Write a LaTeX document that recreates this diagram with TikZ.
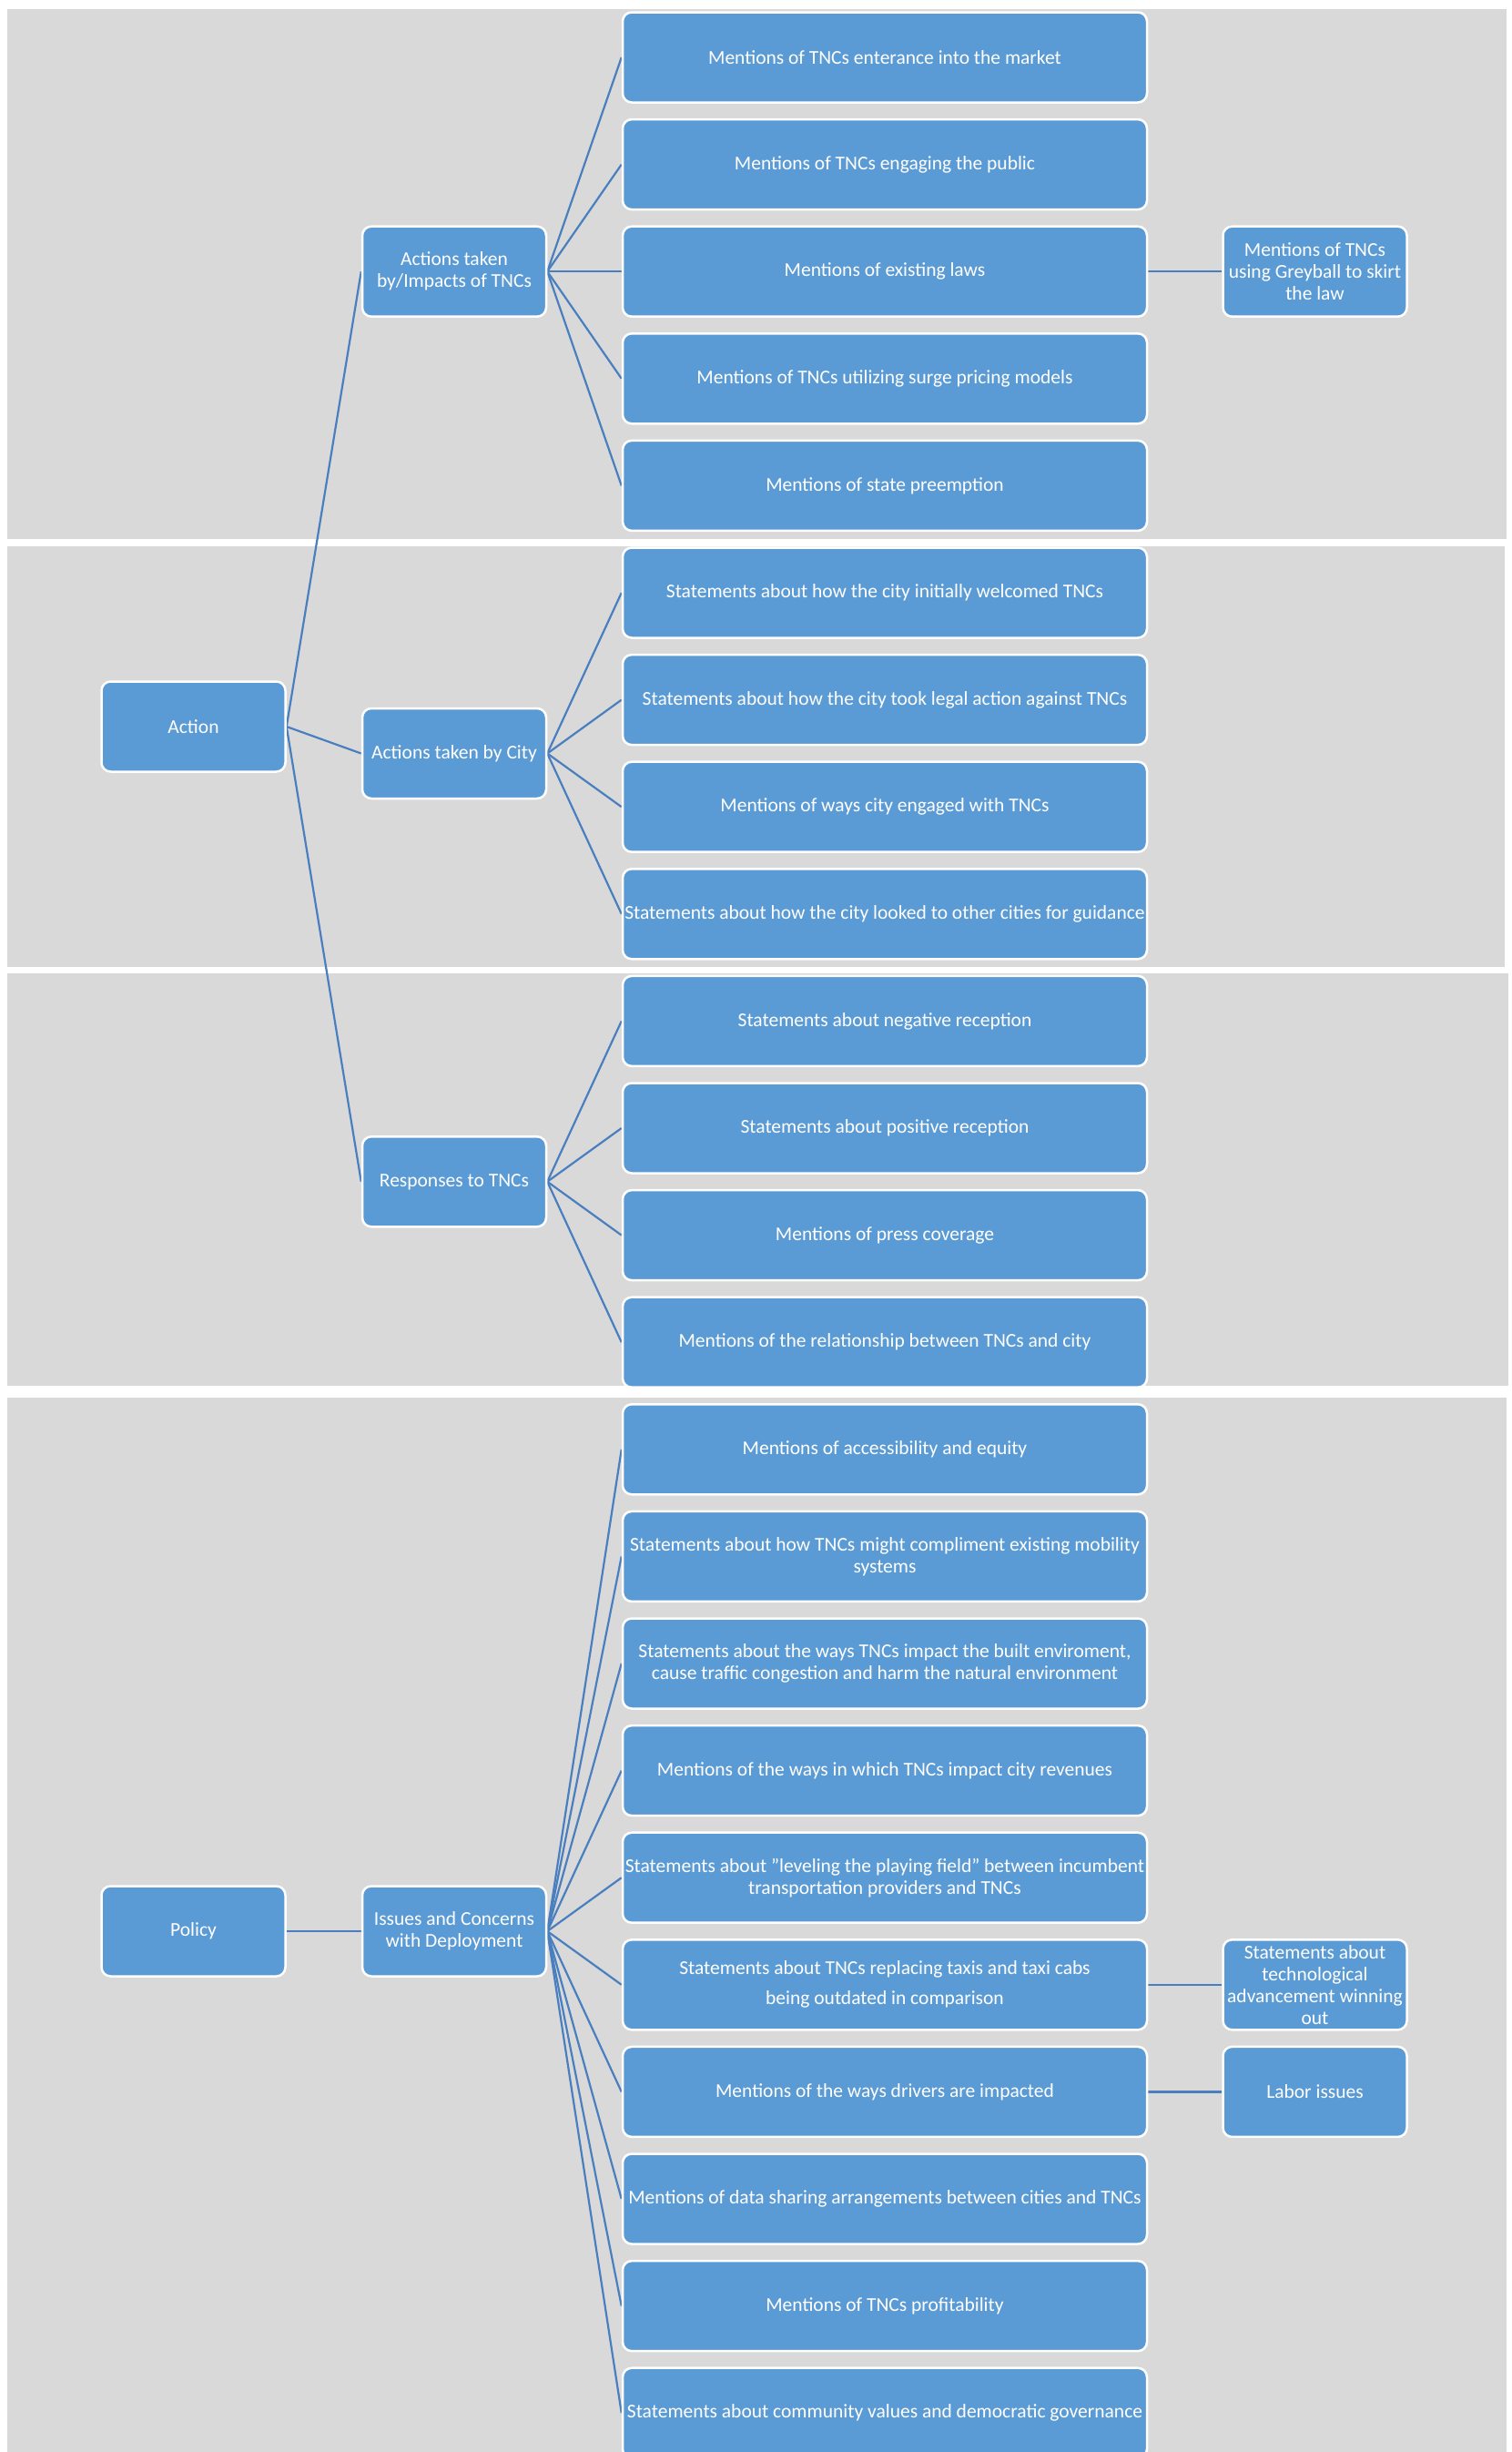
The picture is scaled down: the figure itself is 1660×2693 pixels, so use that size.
\documentclass[tikz,border=0pt]{standalone}
\usepackage{fontspec}
\setmainfont{Carlito}
\definecolor{boxblue}{HTML}{5B9BD5}
\definecolor{panelgray}{HTML}{D9D9D9}
\definecolor{linkblue}{HTML}{4A7FBF}
\pgfdeclarelayer{bg}
\pgfdeclarelayer{edges}
\pgfsetlayers{bg,edges,main}
\tikzset{
  box/.style={rectangle, rounded corners=10pt, fill=boxblue, draw=white, line width=2.5pt,
    text=white, align=center, inner sep=1pt, minimum height=99pt,
    font=\fontsize{21.5}{24}\selectfont},
  wide/.style={box, minimum width=576pt},
  narrow/.style={box, minimum width=202pt},
  conn/.style={draw=linkblue, line width=2.2pt},
  panel/.style={fill=panelgray}
}
\begin{document}
\begin{tikzpicture}[x=1pt,y=-1pt]
\useasboundingbox (0,0) rectangle (1660,2693);
\begin{pgfonlayer}{bg}
\fill[panel] (8,10) rectangle (1655,592);
\fill[panel] (8,600) rectangle (1653,1062);
\fill[panel] (8,1069) rectangle (1657,1522);
\fill[panel] (8,1535) rectangle (1655,2693);
\end{pgfonlayer}

% roots
\node[narrow] (action) at (212.5,798) {Action};
\node[narrow] (policy) at (212.5,2121) {Policy};

% level 2
\node[narrow] (impacts) at (499,298.2) {Actions taken\\by/Impacts of TNCs};
\node[narrow] (city) at (499,827.5) {Actions taken by City};
\node[narrow] (responses) at (499,1297.8) {Responses to TNCs};
\node[narrow] (issues) at (499,2121) {Issues and Concerns\\with Deployment};

% level 3
\node[wide] (b0) at (972,63) {Mentions of TNCs enterance into the market};
\node[wide] (b1) at (972,180.6) {Mentions of TNCs engaging the public};
\node[wide] (b2) at (972,298.2) {Mentions of existing laws};
\node[wide] (b3) at (972,415.8) {Mentions of TNCs utilizing surge pricing models};
\node[wide] (b4) at (972,533.4) {Mentions of state preemption};
\node[wide] (b5) at (972,651) {Statements about how the city initially welcomed TNCs};
\node[wide] (b6) at (972,768.6) {Statements about how the city took legal action against TNCs};
\node[wide] (b7) at (972,886.2) {Mentions of ways city engaged with TNCs};
\node[wide] (b8) at (972,1003.8) {Statements about how the city looked to other cities for guidance};
\node[wide] (b9) at (972,1121.4) {Statements about negative reception};
\node[wide] (b10) at (972,1239) {Statements about positive reception};
\node[wide] (b11) at (972,1356.6) {Mentions of press coverage};
\node[wide] (b12) at (972,1474.2) {Mentions of the relationship between TNCs and city};
\node[wide] (b13) at (972,1591.8) {Mentions of accessibility and equity};
\node[wide] (b14) at (972,1709.4) {Statements about how TNCs might compliment existing mobility\\systems};
\node[wide] (b15) at (972,1827) {Statements about the ways TNCs impact the built enviroment,\\cause traffic congestion and harm the natural environment};
\node[wide] (b16) at (972,1944.6) {Mentions of the ways in which TNCs impact city revenues};
\node[wide] (b17) at (972,2062.2) {Statements about "leveling the playing field" between incumbent\\transportation providers and TNCs};
\node[wide] (b18) at (972,2179.8) {Statements about TNCs replacing taxis and taxi cabs\\[9pt]being outdated in comparison};
\node[wide] (b19) at (972,2297.4) {Mentions of the ways drivers are impacted};
\node[wide] (b20) at (972,2415) {Mentions of data sharing arrangements between cities and TNCs};
\node[wide] (b21) at (972,2532.6) {Mentions of TNCs profitability};
\node[wide] (b22) at (972,2650.2) {Statements about community values and democratic governance};

% level 4
\node[narrow] (greyball) at (1444.5,298.2) {Mentions of TNCs\\using Greyball to skirt\\the law};
\node[narrow] (tech) at (1444.5,2179.8) {Statements about\\technological\\advancement winning\\out};
\node[narrow] (labor) at (1444.5,2297.4) {Labor issues};

\begin{pgfonlayer}{edges}
\foreach \c in {impacts,city,responses} \draw[conn] (action.east) -- (\c.west);
\draw[conn] (policy.east) -- (issues.west);
\foreach \i in {0,...,4} \draw[conn] (impacts.east) -- (b\i.west);
\foreach \i in {5,...,8} \draw[conn] (city.east) -- (b\i.west);
\foreach \i in {9,...,12} \draw[conn] (responses.east) -- (b\i.west);
\foreach \i in {13,...,22} \draw[conn] (issues.east) -- (b\i.west);
\draw[conn] (b2.east) -- (greyball.west);
\draw[conn] (b18.east) -- (tech.west);
\draw[conn] (b19.east) -- (labor.west);
\end{pgfonlayer}
\end{tikzpicture}
\end{document}
